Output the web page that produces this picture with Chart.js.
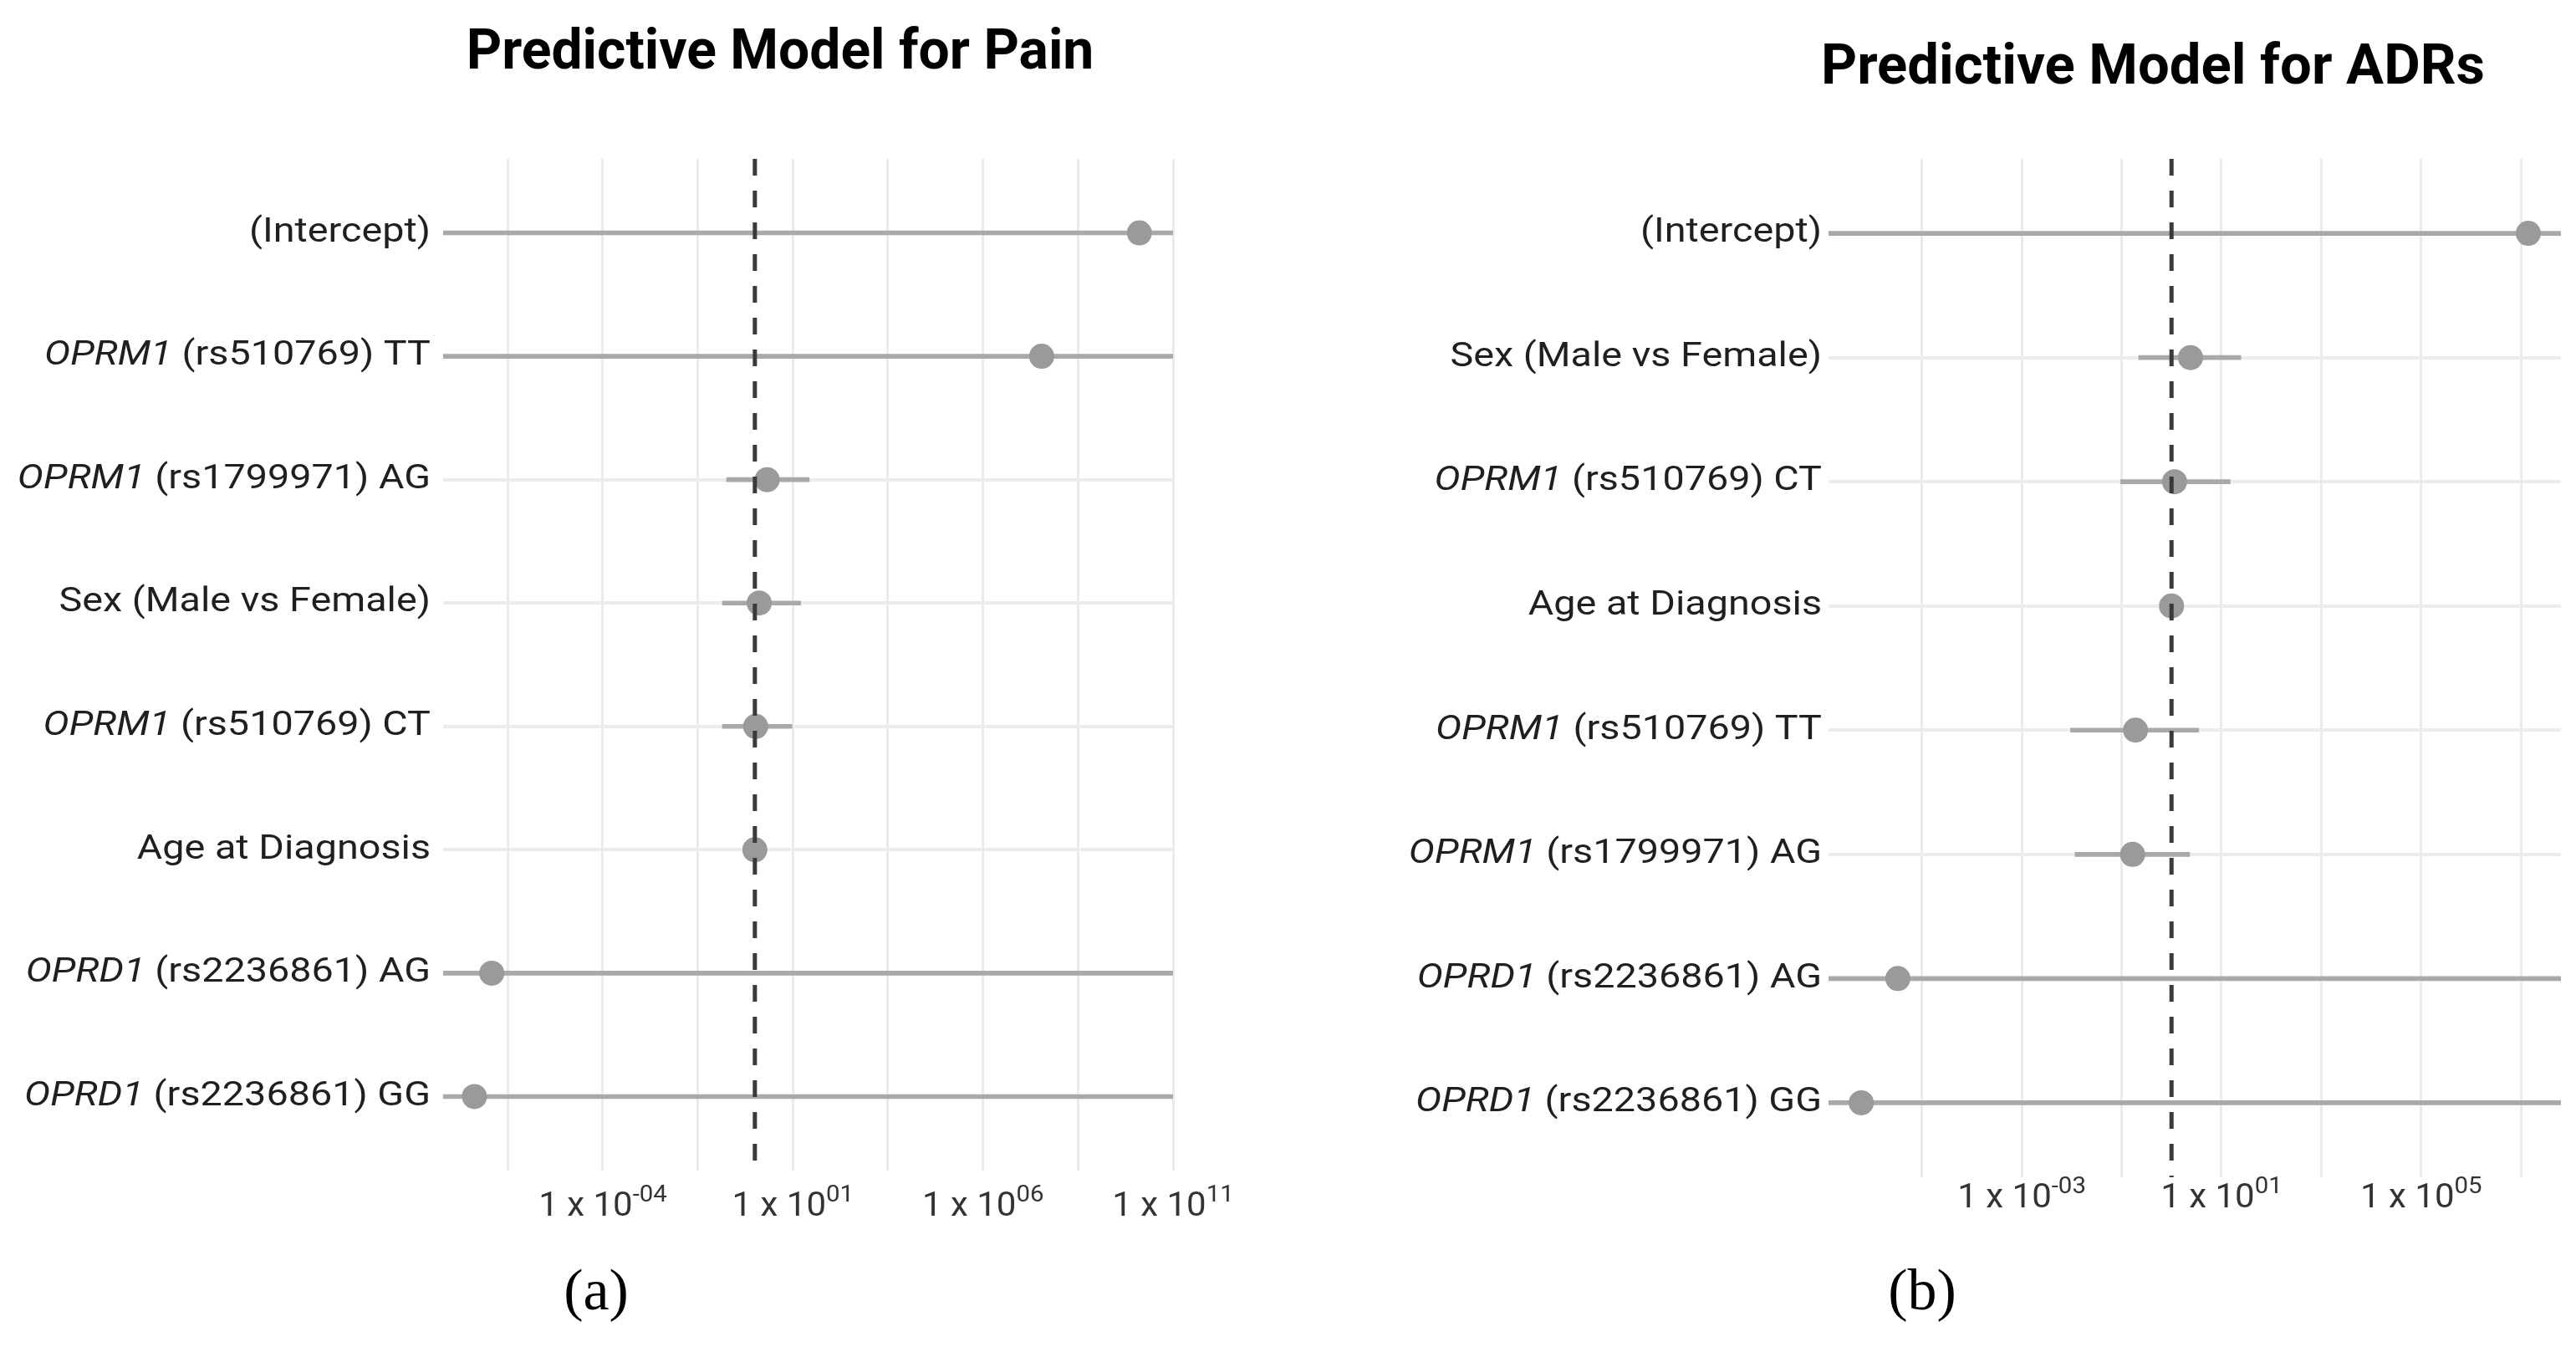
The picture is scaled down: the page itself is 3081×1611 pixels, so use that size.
<!DOCTYPE html>
<html>
<head>
<meta charset="utf-8">
<script src="https://cdn.jsdelivr.net/npm/chart.js@4.4.1/dist/chart.umd.min.js"></script>
<style>
  body { margin: 0; background: #fff; width: 3081px; height: 1611px; position: relative; overflow: hidden; }
  canvas { position: absolute; top: 0; }
  .title { position: absolute; font-family: Roboto, sans-serif; font-weight: 700; line-height: 1; white-space: nowrap; transform: translateX(-50%); color: #000; }
  .cap { position: absolute; font-family: "Liberation Serif", serif; font-size: 70px; line-height: 1; transform: translateX(-50%); color: #000; }
</style>
</head>
<body>
<canvas id="painChart" width="1540" height="1611" style="left:0"></canvas>
<canvas id="adrChart" width="1541" height="1611" style="left:1540px"></canvas>
<div class="title" style="left:933px; top:27px; font-size:66px;">Predictive Model for Pain</div>
<div class="title" style="left:2575px; top:44px; font-size:67px;">Predictive Model for ADRs</div>
<div class="cap" style="left:713px; top:1508px;">(a)</div>
<div class="cap" style="left:2299px; top:1508px;">(b)</div>
<script>
// Panel (a): pain model, rows top to bottom
const painLabels = ['(Intercept)', 'OPRM1 (rs510769) TT', 'OPRM1 (rs1799971) AG', 'Sex (Male vs Female)',
  'OPRM1 (rs510769) CT', 'Age at Diagnosis', 'OPRD1 (rs2236861) AG', 'OPRD1 (rs2236861) GG'];
const painOdds  = [1.3e10, 3.5e7, 2.1, 1.3, 1.05, 1.0, 1.2e-7, 4.2e-8];
const painLower = [1e-12, 1e-12, 0.18, 0.14, 0.14, 0.98, 1e-14, 1e-14];
const painUpper = [1e14, 1e14, 27, 16, 9.5, 1.02, 1e13, 1e13];
const painTickExp = [-4, 1, 6, 11];
const painGridExp = [-6.5, -4, -1.5, 1, 3.5, 6, 8.5, 11];

// Panel (b): ADR model
const adrLabels = ['(Intercept)', 'Sex (Male vs Female)', 'OPRM1 (rs510769) CT', 'Age at Diagnosis',
  'OPRM1 (rs510769) TT', 'OPRM1 (rs1799971) AG', 'OPRD1 (rs2236861) AG', 'OPRD1 (rs2236861) GG'];
const adrOdds  = [1.4e7, 2.4, 1.15, 1.0, 0.19, 0.166, 3.3e-6, 6.1e-7];
const adrLower = [1e-10, 0.22, 0.095, 0.97, 0.0095, 0.0117, 1e-12, 1e-12];
const adrUpper = [1e11, 24.5, 15, 1.03, 3.5, 2.3, 1e11, 1e11];
const adrTickExp = [-3, 1, 5];
const adrGridExp = [-5, -3, -1, 1, 3, 5, 7];

const nullEffect = 1;

function expText(e) {
  const s = String(Math.abs(e)).padStart(2, '0');
  return e < 0 ? '-' + s : s;
}

// draws a row of text pieces, right edge at xRight, slightly widened like the source
function drawParts(ctx, parts, xRight, y, stretch) {
  let w = 0;
  parts.forEach(p => { ctx.font = p.font; p.w = ctx.measureText(p.text).width; w += p.w; });
  ctx.save();
  ctx.translate(xRight - w * stretch, y);
  ctx.scale(stretch, 1);
  let x = 0;
  parts.forEach(p => { ctx.font = p.font; ctx.fillText(p.text, x, p.dy || 0); x += p.w; });
  ctx.restore();
  return w * stretch;
}

function forestChart(id, labels, odds, lower, upper, tickExp, gridExp, layout) {
  const textPlugin = {
    id: 'forestText',
    afterDatasetsDraw(chart) {
      const { ctx, chartArea: a, scales: { x } } = chart;
      const px = x.getPixelForValue(nullEffect);
      ctx.save();
      ctx.strokeStyle = '#3a3a3a';
      ctx.lineWidth = 5;
      ctx.setLineDash([20, 18]);
      ctx.beginPath();
      ctx.moveTo(px, a.top);
      ctx.lineTo(px, a.bottom);
      ctx.stroke();
      ctx.restore();
    },
    afterDraw(chart) {
      const { ctx, chartArea: a, scales: { x, y } } = chart;
      ctx.save();
      ctx.textBaseline = 'middle';
      ctx.fillStyle = '#1f1f1f';
      labels.forEach((lab, i) => {
        const m = lab.match(/^(OPR[MD]1)( .*)$/);
        const parts = m
          ? [{ text: m[1], font: 'italic 41px Roboto' }, { text: m[2], font: '41px Roboto' }]
          : [{ text: lab, font: '41px Roboto' }];
        drawParts(ctx, parts, a.left - layout.labelGap, y.getPixelForValue(i), 1.14);
      });
      ctx.fillStyle = '#333';
      tickExp.forEach(e => {
        const px = x.getPixelForValue(Math.pow(10, e));
        const parts = [{ text: '1 x 10', font: '40px Roboto' }, { text: expText(e), font: '28px Roboto', dy: -14 }];
        let w = 0;
        parts.forEach(p => { ctx.font = p.font; w += ctx.measureText(p.text).width; });
        drawParts(ctx, parts, px + w * 1.05 / 2, a.bottom + layout.tickGap, 1.05);
      });
      ctx.restore();
    }
  };

  return new Chart(document.getElementById(id), {
    type: 'scatter',
    data: {
      datasets: [
        {
          type: 'scatter',
          data: labels.map((_, i) => ({ x: odds[i], y: i })),
          pointRadius: 15,
          pointHoverRadius: 15,
          backgroundColor: '#9a9a9a',
          borderWidth: 0,
          order: 1
        },
        {
          type: 'bar',
          indexAxis: 'y',
          data: labels.map((_, i) => ({ x: [lower[i], upper[i]], y: i })),
          backgroundColor: '#a9a9a9',
          barThickness: 5,
          grouped: false,
          clip: 0,
          order: 2
        }
      ]
    },
    options: {
      responsive: false,
      devicePixelRatio: 1,
      animation: false,
      events: [],
      layout: { padding: layout.padding },
      plugins: { legend: { display: false }, tooltip: { enabled: false } },
      scales: {
        x: {
          type: 'logarithmic',
          min: layout.xMin,
          max: layout.xMax,
          bounds: 'data',
          offset: false,
          beginAtZero: false,
          afterBuildTicks: s => { s.ticks = gridExp.map(e => ({ value: Math.pow(10, e) })); },
          afterFit: s => { s.height = 0; },
          ticks: { display: false },
          grid: { color: '#ebebeb', lineWidth: 3, drawTicks: false, offset: false },
          border: { display: false }
        },
        y: {
          type: 'linear',
          reverse: true,
          min: -0.6,
          max: labels.length - 0.4,
          bounds: 'data',
          offset: false,
          afterBuildTicks: s => { s.ticks = labels.map((_, i) => ({ value: i })); },
          afterFit: s => { s.width = layout.plotLeft; },
          ticks: { display: false },
          grid: { color: '#ececec', lineWidth: 4, drawTicks: false, offset: false },
          border: { display: false }
        }
      }
    },
    plugins: [textPlugin]
  });
}

forestChart('painChart', painLabels, painOdds, painLower, painUpper, painTickExp, painGridExp, {
  xMin: Math.pow(10, -8.2), xMax: 1e11, plotLeft: 530,
  padding: { left: 0, right: 137, top: 190, bottom: 211 },
  labelGap: 15, tickGap: 44
});

forestChart('adrChart', adrLabels, adrOdds, adrLower, adrUpper, adrTickExp, adrGridExp, {
  xMin: Math.pow(10, -6.87), xMax: Math.pow(10, 7.8), plotLeft: 647,
  padding: { left: 0, right: 18, top: 190, bottom: 203 },
  labelGap: 8, tickGap: 26
});
</script>
</body>
</html>
